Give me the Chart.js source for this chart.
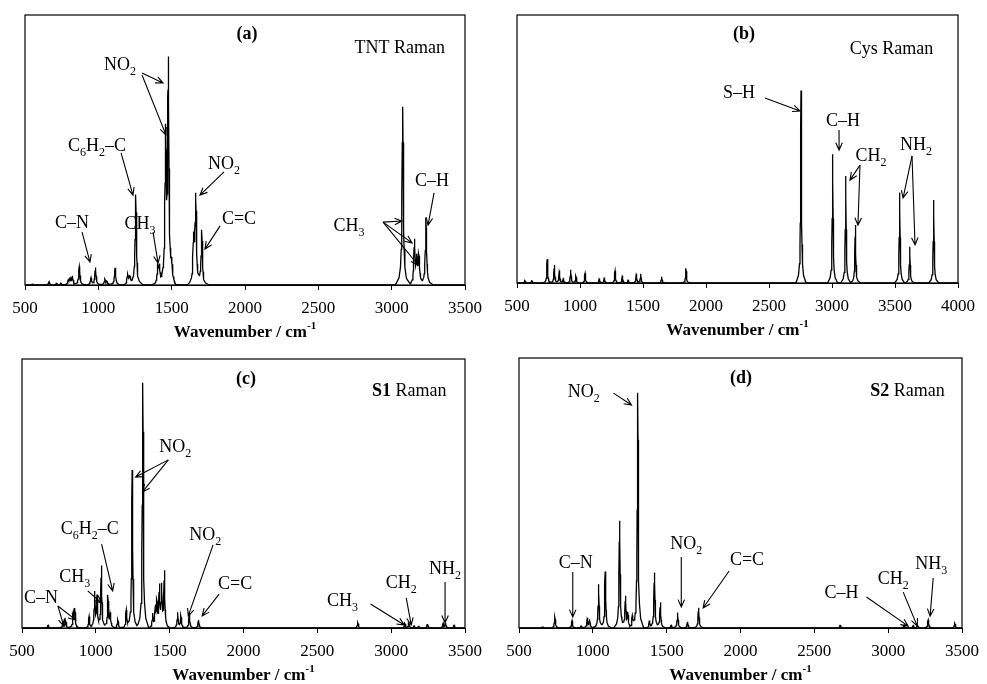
<!DOCTYPE html>
<html>
<head>
<meta charset="utf-8">
<script src="https://cdn.jsdelivr.net/npm/chart.js@4/dist/chart.umd.min.js"></script>
<style>
  body { margin: 0; background: #fff; }
  .panel { position: absolute; }
</style>
</head>
<body>
<div class="panel" style="left:0;top:0"><canvas id="tnt" width="490" height="342"></canvas></div>
<div class="panel" style="left:490px;top:0"><canvas id="cys" width="497" height="342"></canvas></div>
<div class="panel" style="left:0;top:342px"><canvas id="s1" width="490" height="342"></canvas></div>
<div class="panel" style="left:490px;top:342px"><canvas id="s2" width="497" height="342"></canvas></div>
<script>
// peak lists: wavenumber (cm-1) and relative intensity (0-100 = plot height)
const tntWn  = [552, 664, 716, 745, 795, 807, 823, 870, 950, 980, 1045, 1059, 1114, 1200, 1214, 1255, 1405, 1416, 1459, 1477, 1500, 1650, 1664, 1705, 3075, 3155, 3172, 3186, 3234];
const tntInt = [0.4, 1.2, 0.6, 0.6, 1.5, 2.1, 3.1, 6.8, 2.5, 6.4, 2.1, 1.2, 6.4, 3.7, 2.8, 33.5, 7, 6, 53, 80, 5, 16, 32, 20, 66, 16, 9, 10, 25];

const cysWn  = [563, 617, 740, 796, 836, 868, 926, 968, 1040, 1153, 1193, 1278, 1336, 1383, 1447, 1482, 1648, 1841, 2754, 3005, 3109, 3185, 3537, 3617, 3807];
const cysInt = [0.9, 1.1, 8.9, 6.7, 4.6, 1.7, 4.9, 2.6, 3.6, 1.7, 2, 4.5, 2.7, 1.2, 3.4, 3.4, 2.3, 5.5, 71.8, 48, 39.9, 21.6, 33.8, 13.5, 31];

const s1Wn  = [677, 778, 796, 847, 857, 954, 992, 1008, 1037, 1082, 1098, 1149, 1206, 1246, 1318, 1385, 1403, 1414, 1430, 1446, 1464, 1554, 1576, 1633, 1695, 2774, 3093, 3120, 3155, 3186, 3246, 3352, 3368, 3426];
const s1Int = [1, 2.3, 2.5, 5, 6.7, 4.2, 13, 11, 23, 12, 5, 3, 6.7, 58.7, 91.2, 5, 7, 8.5, 14.5, 14.5, 20.5, 5.7, 4.6, 5.4, 3, 2, 1.7, 1.8, 0.8, 0.8, 1.5, 1.7, 1.7, 1];

const s2Wn  = [660, 743, 859, 922, 963, 978, 1039, 1084, 1181, 1221, 1237, 1267, 1304, 1383, 1417, 1457, 1530, 1574, 1641, 1716, 2676, 3109, 3170, 3199, 3271, 3451];
const s2Int = [0.6, 4, 2.7, 0.9, 3.6, 3, 16.2, 20.9, 39.7, 11.6, 5, 4, 87.1, 2.5, 20.5, 9.5, 1, 5.7, 2.3, 7.5, 1.1, 1.1, 0.9, 1.1, 3, 1.7];

const ticksA = [500, 1000, 1500, 2000, 2500, 3000, 3500];
const ticksB = [500, 1000, 1500, 2000, 2500, 3000, 3500, 4000];

// band shape (offsets in half-widths, fraction of peak height) used to draw each peak as a line
const BAND_OFF = [0, 0.5, 1, 1.5, 2, 3, 5, 10];
const BAND_FRAC = [1, 0.8, 0.5, 0.31, 0.2, 0.1, 0.04, 0];

function band(d) {
  for (let i = 1; i < BAND_OFF.length; i++) {
    if (d <= BAND_OFF[i]) {
      const t = (d - BAND_OFF[i - 1]) / (BAND_OFF[i] - BAND_OFF[i - 1]);
      return BAND_FRAC[i - 1] + t * (BAND_FRAC[i] - BAND_FRAC[i - 1]);
    }
  }
  return 0;
}

function spectrum(wn, inten, hw, xmin, xmax) {
  const xs = new Set([xmin, xmax]);
  wn.forEach(p => BAND_OFF.forEach(o => { xs.add(p - o * hw); xs.add(p + o * hw); }));
  return [...xs].filter(x => x >= xmin && x <= xmax).sort((a, b) => a - b)
    .map(x => ({ x: x, y: wn.reduce((s, p, i) => s + inten[i] * band(Math.abs(x - p) / hw), 0) }));
}

// text with _x subscripts, ^{..} superscripts, *bold*
function parts(s) {
  const out = [];
  const re = /_\{([^}]*)\}|_(.)|\^\{([^}]*)\}|\*([^*]*)\*|([^_^*]+)/g;
  let m;
  while ((m = re.exec(s))) {
    if (m[1] != null || m[2] != null) out.push({ t: m[1] != null ? m[1] : m[2], sub: true });
    else if (m[3] != null) out.push({ t: m[3], sup: true });
    else if (m[4] != null) out.push({ t: m[4], bold: true });
    else out.push({ t: m[5] });
  }
  return out;
}

function rich(ctx, x, y, s, size, align, bold) {
  const ps = parts(s);
  const fnt = p => ((bold || p.bold) ? 'bold ' : '') + Math.round((p.sub || p.sup) ? size * 0.65 : size) + 'px "Liberation Serif"';
  let w = 0;
  ps.forEach(p => { ctx.font = fnt(p); p.w = ctx.measureText(p.t).width; w += p.w; });
  let cx = align === 'right' ? x - w : align === 'left' ? x : x - w / 2;
  const base = y + size * 0.33;
  ctx.textAlign = 'left';
  ctx.textBaseline = 'alphabetic';
  ctx.fillStyle = '#000';
  ps.forEach(p => {
    ctx.font = fnt(p);
    ctx.fillText(p.t, cx, base + (p.sub ? size * 0.28 : p.sup ? -size * 0.42 : 0));
    cx += p.w;
  });
}

function arrow(ctx, x1, y1, x2, y2) {
  const a = Math.atan2(y2 - y1, x2 - x1), L = 8, s = 0.42;
  ctx.beginPath();
  ctx.moveTo(x1, y1);
  ctx.lineTo(x2, y2);
  ctx.moveTo(x2 - L * Math.cos(a - s), y2 - L * Math.sin(a - s));
  ctx.lineTo(x2, y2);
  ctx.lineTo(x2 - L * Math.cos(a + s), y2 - L * Math.sin(a + s));
  ctx.stroke();
}

const decor = {
  id: 'decor',
  afterDraw(chart, args, o) {
    const { ctx, chartArea: a } = chart;
    const x = chart.scales.x, y = chart.scales.y;
    ctx.save();
    ctx.strokeStyle = '#000';
    ctx.lineWidth = 1.2;
    ctx.strokeRect(a.left, a.top, a.right - a.left, a.bottom - a.top);
    rich(ctx, x.getPixelForValue(o.letter[1]), y.getPixelForValue(o.letter[2]), o.letter[0], 18, 'center', true);
    rich(ctx, x.getPixelForValue(o.name[1]), y.getPixelForValue(o.name[2]), o.name[0], 18, 'right');
    o.labels.forEach(l => rich(ctx, x.getPixelForValue(l[1]), y.getPixelForValue(l[2]), l[0], 18, 'center'));
    ctx.lineWidth = 1.1;
    o.arrows.forEach(r => arrow(ctx, x.getPixelForValue(r[0]), y.getPixelForValue(r[1]), x.getPixelForValue(r[2]), y.getPixelForValue(r[3])));
    rich(ctx, (a.left + a.right) / 2, a.bottom + 46, 'Wavenumber / cm^{-1}', 17, 'center', true);
    ctx.restore();
  }
};

function makeChart(id, wn, inten, hw, ticks, pad, deco) {
  const xmin = ticks[0], xmax = ticks[ticks.length - 1];
  return new Chart(document.getElementById(id), {
    type: 'line',
    data: {
      datasets: [{
        data: spectrum(wn, inten, hw, xmin, xmax),
        borderColor: '#000',
        borderWidth: 1.3,
        pointRadius: 0,
        tension: 0,
        fill: false
      }]
    },
    options: {
      responsive: false,
      animation: false,
      layout: { padding: pad },
      plugins: { legend: { display: false }, tooltip: { enabled: false }, decor: deco },
      scales: {
        x: {
          type: 'linear',
          min: xmin,
          max: xmax,
          afterFit: s => { s.height = 50; },
          afterBuildTicks: s => { s.ticks = ticks.map(v => ({ value: v })); },
          ticks: { color: '#000', font: { size: 17 }, padding: 8, maxRotation: 0, callback: v => String(v) },
          grid: { drawOnChartArea: false, drawTicks: true, tickLength: 5, color: '#000' },
          border: { display: true, color: '#000' }
        },
        y: { display: false, min: 0, max: 100 }
      }
    },
    plugins: [decor]
  });
}

Chart.defaults.font.family = '"Liberation Serif", "Times New Roman", serif';

makeChart('tnt', tntWn, tntInt, 5, ticksA, { left: 25, right: 25, top: 15, bottom: 7 }, {
  letter: ['(a)', 2014, 93.3],
  name: ['TNT Raman', 3364, 88.1],
  labels: [['NO_2', 1148, 81.9], ['C_6H_2–C', 991, 51.9], ['C–N', 820, 23.3], ['CH_3', 1284, 23.0],
           ['NO_2', 1857, 45.2], ['C=C', 1959, 24.8], ['CH_3', 2709, 22.2], ['C–H', 3275, 38.9]],
  arrows: [[1298, 78.5, 1441, 74.8], [1298, 77.8, 1461, 55.6], [1155, 48.9, 1236, 33.3], [889, 19.6, 943, 8.5],
           [1373, 19.6, 1407, 8.1], [1857, 41.9, 1693, 33.3], [1830, 21.9, 1727, 13.3],
           [2941, 23.3, 3070, 23.7], [2941, 23.3, 3139, 15.6], [2941, 23.3, 3180, 7.4], [3289, 34.1, 3248, 22.2]]
});

makeChart('cys', cysWn, cysInt, 4, ticksB, { left: 27, right: 29, top: 15, bottom: 9 }, {
  letter: ['(b)', 2302, 93.3],
  name: ['Cys Raman', 3804, 87.7],
  labels: [['S–H', 2262, 71.3], ['C–H', 3087, 60.8], ['CH_2', 3310, 47.8], ['NH_2', 3667, 51.9]],
  arrows: [[2468, 69.0, 2746, 64.2], [3056, 57.1, 3056, 49.6], [3222, 44.0, 3143, 38.4], [3222, 44.0, 3206, 21.6],
           [3635, 47.4, 3564, 31.7], [3635, 47.4, 3659, 14.2]]
});

makeChart('s1', s1Wn, s1Int, 4, ticksA, { left: 22, right: 23, top: 17, bottom: 6 }, {
  letter: ['(c)', 2017, 92.9],
  name: ['*S1* Raman', 3374, 88.5],
  labels: [['NO_2', 1538, 67.7], ['C_6H_2–C', 958, 37.2], ['CH_3', 857, 19.3], ['C–N', 628, 11.5],
           ['NO_2', 1741, 34.9], ['C=C', 1943, 16.7], ['CH_3', 2671, 10.4], ['CH_2', 3069, 17.1], ['NH_2', 3365, 22.3]],
  arrows: [[1491, 62.5, 1269, 56.1], [1491, 62.5, 1316, 50.6], [1039, 31.2, 1114, 13.8], [945, 13.8, 1039, 9.3],
           [743, 8.2, 783, 0.7], [743, 8.2, 864, 3.0], [1794, 30.9, 1626, 4.5], [1835, 12.6, 1720, 4.5],
           [2860, 8.9, 3089, 1.1], [3102, 11.2, 3136, 1.1], [3365, 17.1, 3365, 1.9]]
});

makeChart('s2', s2Wn, s2Int, 4, ticksA, { left: 29, right: 23, top: 16, bottom: 6 }, {
  letter: ['(d)', 2003, 93.0],
  name: ['*S2* Raman', 3383, 88.1],
  labels: [['NO_2', 938, 87.8], ['C–N', 884, 24.4], ['NO_2', 1633, 31.5], ['C=C', 2044, 25.6],
           ['C–H', 2684, 13.3], ['CH_2', 3035, 18.5], ['NH_3', 3291, 24.1]],
  arrows: [[1140, 87.0, 1262, 82.6], [864, 20.7, 864, 4.1], [1599, 26.3, 1599, 7.8], [1923, 21.1, 1747, 7.4],
           [2853, 11.5, 3136, 0.7], [3102, 13.3, 3197, 0.7], [3305, 18.5, 3284, 4.4]]
});
</script>
</body>
</html>
